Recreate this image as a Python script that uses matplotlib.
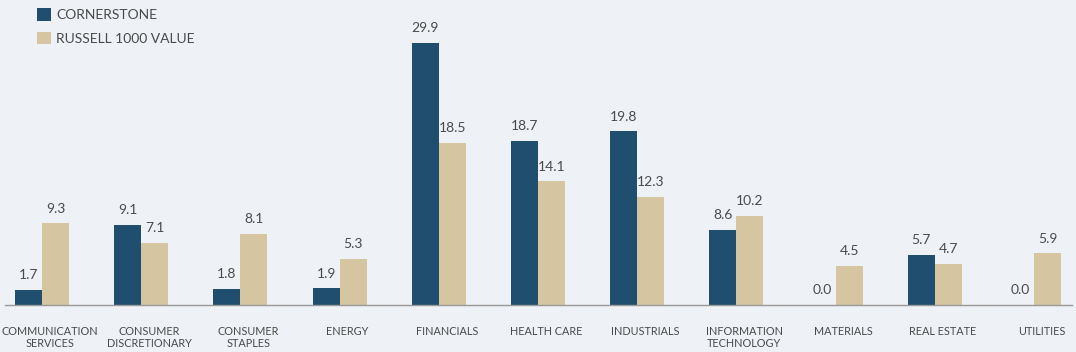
import matplotlib
matplotlib.use("Agg")
import matplotlib.pyplot as plt
import matplotlib.transforms as mtransforms
import numpy as np

categories = [
    "COMMUNICATION\nSERVICES", "CONSUMER\nDISCRETIONARY", "CONSUMER\nSTAPLES",
    "ENERGY", "FINANCIALS", "HEALTH CARE", "INDUSTRIALS",
    "INFORMATION\nTECHNOLOGY", "MATERIALS", "REAL ESTATE", "UTILITIES",
]
cornerstone = [1.7, 9.1, 1.8, 1.9, 29.9, 18.7, 19.8, 8.6, 0.0, 5.7, 0.0]
russell = [9.3, 7.1, 8.1, 5.3, 18.5, 14.1, 12.3, 10.2, 4.5, 4.7, 5.9]

BG = "#EEF1F6"
BLUE = "#1F4E6E"
TAN = "#D5C6A1"
TEXT = "#4A4A4A"

plt.rcParams["font.family"] = ["Lato", "DejaVu Sans"]

fig = plt.figure(figsize=(10.76, 3.52), dpi=100, facecolor=BG)
ax = fig.add_axes([5 / 1076, 47 / 352, 1067 / 1076, 305 / 352], facecolor=BG)

x = np.arange(len(categories))
width = 0.272
b1 = ax.bar(x - width / 2, cornerstone, width, color=BLUE, label="CORNERSTONE")
b2 = ax.bar(x + width / 2, russell, width, color=TAN, label="RUSSELL 1000 VALUE")

for bars, vals in ((b1, cornerstone), (b2, russell)):
    for bar, v in zip(bars, vals):
        ax.text(bar.get_x() + bar.get_width() / 2, v + 1.0, f"{v:.1f}",
                ha="center", va="bottom", fontsize=10, color=TEXT)

ax.set_xlim(-0.373, 10.383)
ax.set_ylim(0, 34.8)
ax.set_yticks([])
ax.set_xticks(x)
ax.set_xticklabels(categories, fontsize=7.8, color=TEXT, linespacing=1.15)
ax.tick_params(axis="x", length=0, pad=15)
# labels in the original sit a little right of the bar pairs
shift = mtransforms.ScaledTranslation(8 / 100, 0, fig.dpi_scale_trans)
for lbl in ax.get_xticklabels():
    lbl.set_transform(lbl.get_transform() + shift)
for side in ("top", "right", "left"):
    ax.spines[side].set_visible(False)
ax.spines["bottom"].set_color("#999999")
ax.spines["bottom"].set_linewidth(1)

ax.legend(loc="upper left", bbox_to_anchor=(0.022, 1.0), frameon=False,
          fontsize=10, labelcolor=TEXT, handlelength=1.0, handleheight=1.0,
          handletextpad=0.4, labelspacing=0.75, borderaxespad=0.2)

fig.savefig("out.png", dpi=100, facecolor=BG)
